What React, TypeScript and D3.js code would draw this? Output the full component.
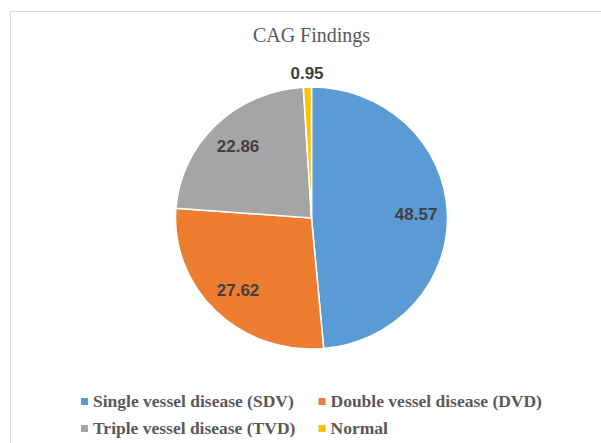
import React from "react";
import * as d3 from "d3";

const categories = [
  "Single vessel disease (SDV)",
  "Double vessel disease (DVD)",
  "Triple vessel disease (TVD)",
  "Normal",
];
const values = [48.57, 27.62, 22.86, 0.95];
const colors = ["#5B9BD5", "#ED7D31", "#A5A5A5", "#FFC000"];

const width = 601;
const height = 443;
const cx = 311.5;
const cy = 218;
const radius = 131;
const stretchX = 1.038;

const serif = "Liberation Serif, Tinos, Times New Roman, DejaVu Serif, serif";
const sans = "Liberation Sans, Arimo, Arial, sans-serif";

const App: React.FC = () => {
  const pie = d3
    .pie<number>()
    .sort(null)
    .value((d) => d)(values);

  const arc = d3.arc<d3.PieArcDatum<number>>().innerRadius(0).outerRadius(radius);
  const labelArc = d3
    .arc<d3.PieArcDatum<number>>()
    .innerRadius(radius * 0.77)
    .outerRadius(radius * 0.77);
  const outerArc = d3
    .arc<d3.PieArcDatum<number>>()
    .innerRadius(radius + 14)
    .outerRadius(radius + 14);

  // legend: 2 columns, 2 rows
  const legendCol = d3.scaleOrdinal<number, number>().domain([0, 1]).range([81, 318.5]);
  const legendRow = d3.scaleOrdinal<number, number>().domain([0, 1]).range([407, 434]);

  return (
    <svg
      width={width}
      height={height}
      style={{ position: "absolute", left: 0, top: 0, background: "#fff" }}
    >
      <rect x={10.5} y={11.5} width={width} height={height} fill="#fff" stroke="#D9D9D9" />
      <text
        x={cx}
        y={42}
        textAnchor="middle"
        style={{ fontFamily: serif, fontSize: 20 }}
        fill="#595959"
      >
        CAG Findings
      </text>
      <g transform={`translate(${cx},${cy}) scale(${stretchX},1)`}>
        {pie.map((d, i) => (
          <path key={i} d={arc(d) ?? ""} fill={colors[i]} stroke="#fff" strokeWidth={1.5} />
        ))}
      </g>
      <g transform={`translate(${cx},${cy})`}>
        {pie.map((d, i) => {
          const small = d.endAngle - d.startAngle < 0.2;
          const [x, y] = (small ? outerArc : labelArc).centroid(d);
          return (
            <text
              key={i}
              x={x * stretchX}
              y={y}
              dy="0.36em"
              textAnchor="middle"
              style={{ fontFamily: sans, fontWeight: "bold", fontSize: 17 }}
              fill="#404040"
            >
              {d.data.toFixed(2)}
            </text>
          );
        })}
      </g>
      <g>
        {categories.map((c, i) => {
          const x = legendCol(i % 2);
          const y = legendRow(Math.floor(i / 2));
          return (
            <g key={c}>
              <rect x={x} y={y - 9} width={7} height={7} fill={colors[i]} />
              <text
                x={x + 12}
                y={y}
                style={{ fontFamily: serif, fontWeight: "bold", fontSize: 17.5 }}
                fill="#595959"
              >
                {c}
              </text>
            </g>
          );
        })}
      </g>
    </svg>
  );
};

export default App;
